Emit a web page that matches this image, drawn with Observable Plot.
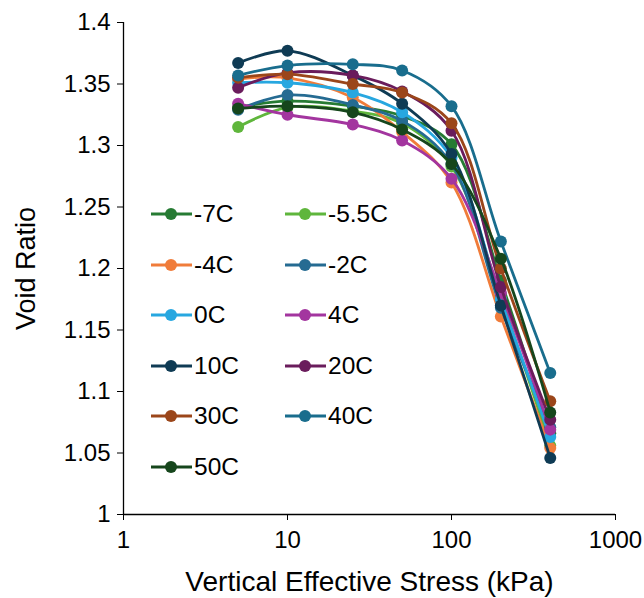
<!DOCTYPE html>
<html><head><meta charset="utf-8">
<script src="https://cdn.jsdelivr.net/npm/d3@7"></script>
<script src="https://cdn.jsdelivr.net/npm/@observablehq/plot@0.6"></script>
<style>
body{margin:0;background:#fff;font-family:"Liberation Sans",Arial,sans-serif;}
#wrap{position:relative;width:644px;height:598px;}
#legend{position:absolute;left:151px;top:189px;display:grid;grid-template-columns:134px 134px;grid-auto-rows:50.5px;}
.item{display:flex;align-items:center;font-size:24.5px;color:#000;}
.item svg{margin-right:2px;}
</style></head><body><div id="wrap"></div>
<script>
const stress = [5, 10, 25, 50, 100, 200, 400];
const temps = ["-7C","-5.5C","-4C","-2C","0C","4C","10C","20C","30C","40C","50C"];
const colors = ["#267b33","#5fb63c","#f07c3a","#256b92","#27a7e0","#a3359f","#0f3b54","#6a1c5c","#9b461a","#196d8d","#16461c"];
const eM7   = [1.331, 1.336, 1.332, 1.324, 1.301, 1.190, 1.066];
const eM5_5 = [1.315, 1.331, 1.328, 1.318, 1.283, 1.176, 1.056];
const eM4   = [1.354, 1.355, 1.339, 1.311, 1.270, 1.161, 1.054];
const eM2   = [1.329, 1.341, 1.333, 1.320, 1.285, 1.168, 1.071];
const e0    = [1.351, 1.351, 1.343, 1.327, 1.290, 1.175, 1.063];
const e4    = [1.334, 1.325, 1.317, 1.304, 1.273, 1.180, 1.069];
const e10   = [1.367, 1.377, 1.357, 1.334, 1.293, 1.170, 1.046];
const e20   = [1.347, 1.359, 1.357, 1.344, 1.312, 1.185, 1.077];
const e30   = [1.355, 1.358, 1.350, 1.343, 1.318, 1.200, 1.092];
const e40   = [1.357, 1.365, 1.366, 1.361, 1.332, 1.222, 1.115];
const e50   = [1.330, 1.332, 1.327, 1.313, 1.285, 1.208, 1.083];
const xTicks = [1, 10, 100, 1000];
const yTicks = [1, 1.05, 1.1, 1.15, 1.2, 1.25, 1.3, 1.35, 1.4];

const series = [eM7, eM5_5, eM4, eM2, e0, e4, e10, e20, e30, e40, e50];
const rows = temps.flatMap((t, i) => stress.map((s, j) => ({temp: t, stress: s, e: series[i][j]})));

const seriesMarks = temps.flatMap(t => {
  const d = rows.filter(r => r.temp === t);
  return [
    Plot.line(d, {x: "stress", y: "e", stroke: "temp", strokeWidth: 2.8, curve: "catmull-rom"}),
    Plot.dot(d, {x: "stress", y: "e", fill: "temp", r: 6})
  ];
});

const chart = Plot.plot({
  width: 644, height: 598,
  marginLeft: 123, marginRight: 29, marginTop: 22, marginBottom: 84,
  style: {fontFamily: '"Liberation Sans", Arial, sans-serif', fontSize: "24px", color: "#000", background: "#fff"},
  x: {type: "log", domain: [1, 1000]},
  y: {domain: [1, 1.4]},
  color: {domain: temps, range: colors},
  marks: [
    Plot.axisX({ticks: xTicks, tickFormat: d => String(d), tickSize: 6, tickPadding: 10,
      label: "Vertical Effective Stress (kPa)", labelAnchor: "center", labelArrow: "none", labelOffset: 76, fontSize: 24}),
    Plot.axisY({ticks: yTicks, tickFormat: d => String(Math.round(d * 100) / 100), tickSize: 6, tickPadding: 7,
      label: "Void Ratio", labelAnchor: "center", labelArrow: "none", labelOffset: 108, fontSize: 24}),
    Plot.ruleX([1], {stroke: "#000", strokeWidth: 1.3}),
    Plot.ruleY([1], {stroke: "#000", strokeWidth: 1.3}),
    ...seriesMarks
  ]
});

// axis titles are a little larger than the tick labels
chart.querySelectorAll("g[aria-label='x-axis label'] text").forEach(t => t.setAttribute("font-size", "28"));
chart.querySelectorAll("g[aria-label='y-axis label'] text").forEach(t => t.setAttribute("font-size", "27"));

const wrap = document.getElementById("wrap");
wrap.appendChild(chart);
const legend = document.createElement("div");
legend.id = "legend";
temps.forEach((t, i) => {
  const it = document.createElement("div");
  it.className = "item";
  it.innerHTML = `<svg width="41" height="14"><line x1="0" x2="41" y1="7" y2="7" stroke="${colors[i]}" stroke-width="2.8"/><circle cx="20" cy="7" r="6" fill="${colors[i]}"/></svg><span>${t}</span>`;
  legend.appendChild(it);
});
wrap.appendChild(legend);
</script></body></html>
